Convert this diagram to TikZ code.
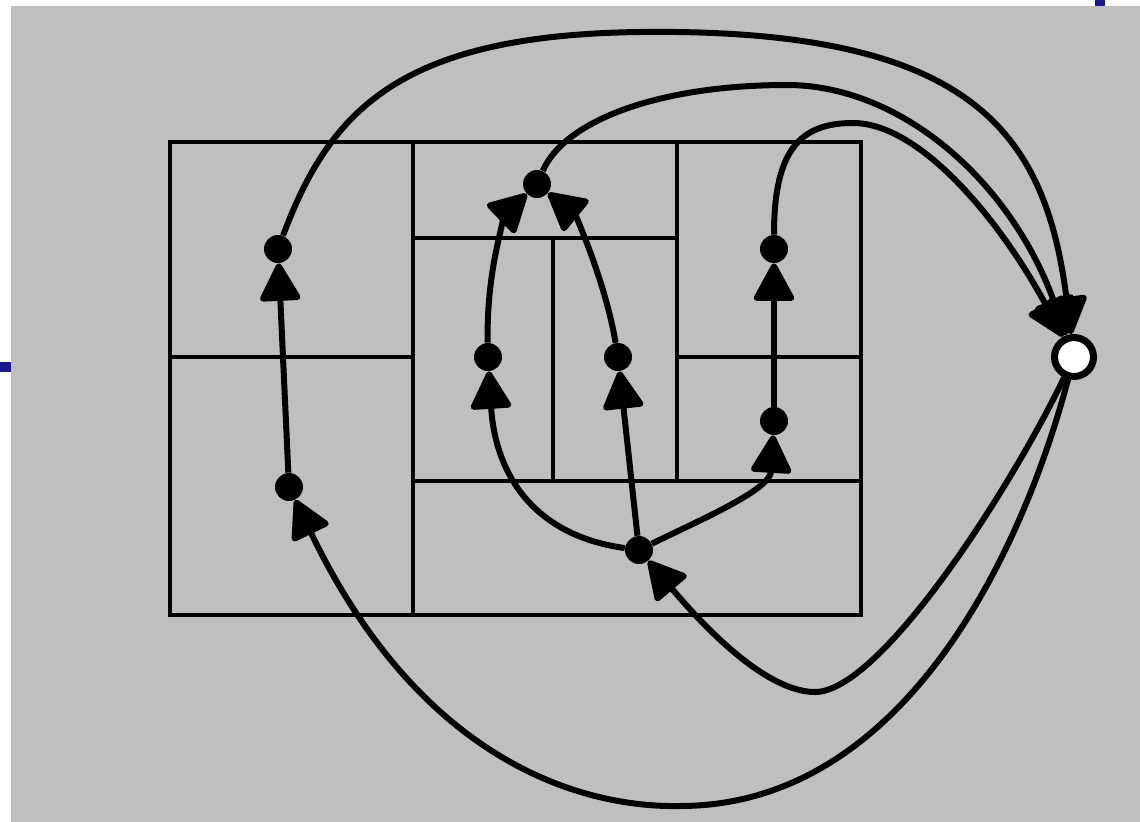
\documentclass[tikz,border=0pt]{standalone}
\usetikzlibrary{arrows.meta}
\tikzstyle{vx}=[shape=circle, minimum size=5.6mm, inner sep=0, fill=black]
\tikzstyle{sink}=[shape=circle, minimum size=7.8mm, inner sep=0, fill=white, draw=black, line width=1.4mm]
\tikzstyle{arc}=[line width=1.2mm, -{Triangle[length=8.2mm,width=8.6mm,round]}]
\tikzstyle{cell}=[line width=0.65mm]
\definecolor{bg}{gray}{0.75}
\definecolor{tick}{RGB}{26,26,140}

\begin{document}
\begin{tikzpicture}[x=0.02cm, y=-0.02cm]
\useasboundingbox (0,0) rectangle (1140,822);
\fill[bg] (11,6) rectangle (1140,822);
\fill[tick] (0,362) rectangle (11,372);
\fill[tick] (1095,0) rectangle (1105,6);
% the partition
\draw[cell] (170,142) rectangle (861,615);
\draw[cell] (413,142)--(413,615);
\draw[cell] (170,357)--(413,357);
\draw[cell] (413,238)--(677,238);
\draw[cell] (677,142)--(677,481);
\draw[cell] (413,481)--(861,481);
\draw[cell] (553,238)--(553,481);
\draw[cell] (677,357)--(861,357);
% vertices
\node at (278,249)[vx](0){};
\node at (289,487)[vx](1){};
\node at (537,184)[vx](2){};
\node at (488,357)[vx](3){};
\node at (618,357)[vx](4){};
\node at (774,249)[vx](5){};
\node at (774,421)[vx](6){};
\node at (639,550)[vx](7){};
\node at (1074,357)[sink](t){};
% arcs
\draw[arc] (1)--(0);
\draw[arc] (7)--(4);
\draw[arc] (6)--(5);
\draw[arc] (7) .. controls (530,535) and (495,470) .. (3);
\draw[arc] (7) .. controls (700,520) and (770,490) .. (6);
\draw[arc] (3) .. controls (486,260) and (510,210) .. (2);
\draw[arc] (4) .. controls (605,280) and (575,215) .. (2);
\draw[arc] (0) .. controls (330,110) and (400,35) .. (640,32)
  .. controls (970,28) and (1045,130) .. (t);
\draw[arc] (2) .. controls (565,120) and (660,85) .. (787,85)
  .. controls (900,85) and (1010,180) .. (t);
\draw[arc] (5) .. controls (774,150) and (800,123) .. (853,123)
  .. controls (920,123) and (1000,220) .. (t);
\draw[arc] (t) .. controls (1010,490) and (880,692) .. (815,692)
  .. controls (760,692) and (690,610) .. (7);
\draw[arc] (t) .. controls (1020,560) and (900,806) .. (680,806)
  .. controls (580,808) and (420,760) .. (1);
\end{tikzpicture}
\end{document}
